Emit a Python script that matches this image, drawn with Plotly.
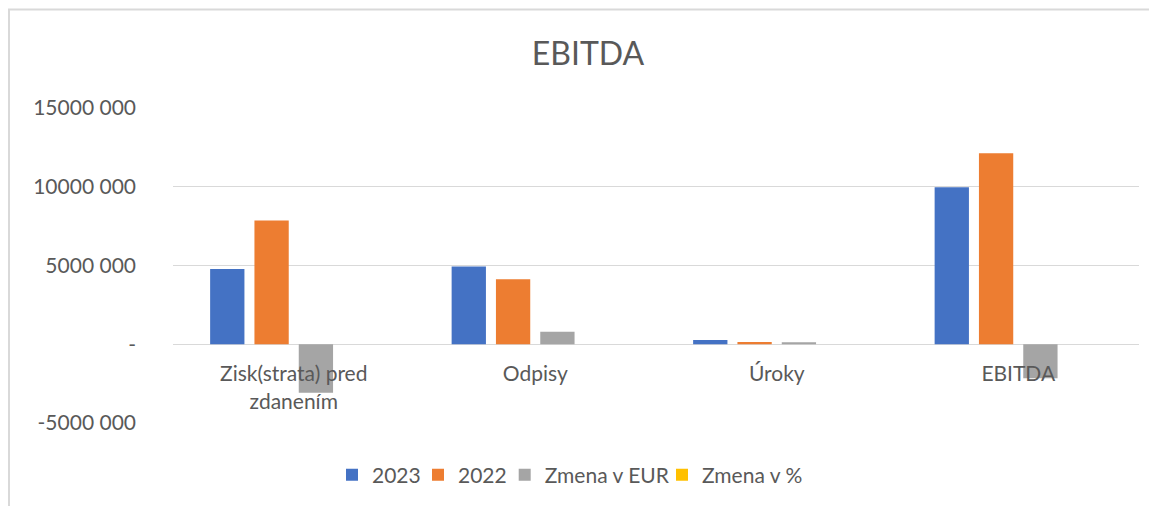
import plotly.graph_objects as go

categories = ["Zisk(strata) pred<br>zdanením", "Odpisy", "Úroky", "EBITDA"]
series_names = ["2023", "2022", "Zmena v EUR", "Zmena v %"]
values_2023 = [4770000, 4930000, 270000, 9970000]
values_2022 = [7850000, 4130000, 140000, 12130000]
values_zmena_eur = [-3080000, 800000, 130000, -2160000]
values_zmena_pct = [-0.39, 0.19, 0.93, -0.18]
colors = ["#4472C4", "#ED7D31", "#A5A5A5", "#FFC000"]

y_tickvals = [-5000000, 0, 5000000, 10000000, 15000000]
y_ticktext = ["-5000 000", "-", "5000 000", "10000 000", "15000 000"]

FONT = "Lato, 'Open Sans', sans-serif"
TXT = "#595959"

# page has an 8px body margin; figure coords = page coords - 8
L, T, PW, PH = 165, 100, 966, 315
W, H = 1157, 506

legend_ids = ["legend", "legend2", "legend3", "legend4"]
legend_left_page = [332, 418, 504.7, 662]

fig = go.Figure()
for name, vals, col, lid in zip(series_names,
                                [values_2023, values_2022, values_zmena_eur, values_zmena_pct],
                                colors, legend_ids):
    fig.add_trace(go.Bar(name=name, x=categories, y=vals, marker_color=col,
                         marker_line_width=0, legend=lid))

leg_common = dict(orientation="h", y=-0.165, yanchor="middle", xanchor="left",
                  bgcolor="rgba(0,0,0,0)", borderwidth=0,
                  font=dict(family=FONT, size=21, color=TXT))
legends = {}
for lid, px in zip(legend_ids, legend_left_page):
    legends[lid] = dict(x=(px - 8 - L) / PW, **leg_common)

fig.update_layout(
    width=W, height=H,
    margin=dict(l=L, r=W - L - PW, t=T, b=H - T - PH),
    paper_bgcolor="white", plot_bgcolor="white",
    barmode="group", bargap=0.266, bargroupgap=0.226,
    title=dict(text="EBITDA", x=(588 - 8) / W, xanchor="center", y=1 - 46 / H, yanchor="middle",
               font=dict(family=FONT, size=32, color=TXT)),
    font=dict(family=FONT, size=21, color=TXT),
    showlegend=True,
    **legends,
)
fig.update_yaxes(range=[-5000000, 15000000], tickvals=y_tickvals, ticktext=y_ticktext,
                 showgrid=True, gridcolor="#D9D9D9", gridwidth=1.3,
                 zeroline=True, zerolinecolor="#D9D9D9", zerolinewidth=1.3,
                 showline=False, ticks="", ticklabelstandoff=36,
                 tickfont=dict(family=FONT, size=21, color=TXT))
fig.update_xaxes(anchor="free", position=0.25, showline=False, ticks="",
                 ticklabelstandoff=15,
                 tickfont=dict(family=FONT, size=21, color=TXT))

# chart border (Excel chart area outline)
fig.add_shape(type="rect", xref="paper", yref="paper",
              x0=(1 - L) / PW, x1=(W + 10 - L) / PW,
              y0=(T + PH - (H + 10)) / PH, y1=(T + PH - 1.5) / PH,
              line=dict(color="#D9D9D9", width=2), fillcolor="rgba(0,0,0,0)", layer="below")

fig.write_html("out.html")
